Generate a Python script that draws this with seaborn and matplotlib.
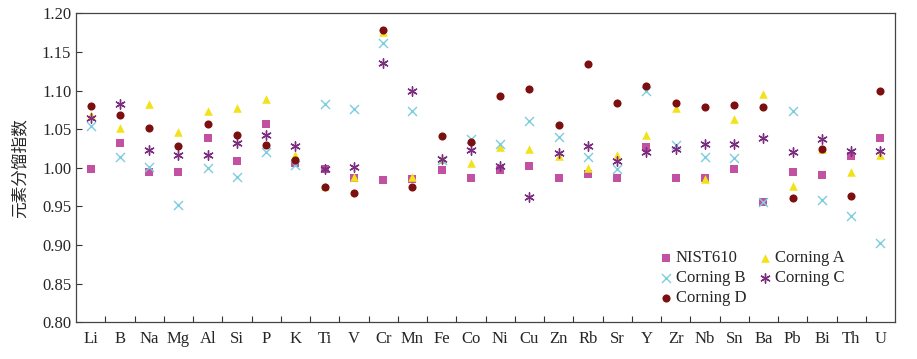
import numpy as np
import pandas as pd
import seaborn as sns
import matplotlib.pyplot as plt
from matplotlib.ticker import FormatStrFormatter

sns.set_theme(style="ticks")
plt.rcParams['font.family'] = ['Liberation Serif', 'Noto Sans CJK SC']
plt.rcParams['axes.unicode_minus'] = False

elements = ["Li", "B", "Na", "Mg", "Al", "Si", "P", "K", "Ti", "V", "Cr", "Mn", "Fe", "Co",
            "Ni", "Cu", "Zn", "Rb", "Sr", "Y", "Zr", "Nb", "Sn", "Ba", "Pb", "Bi", "Th", "U"]

nist610 = [0.998, 1.032, 0.994, 0.995, 1.038, 1.009, 1.057, 1.006, 0.999, 0.987, 0.984, 0.985, 0.997, 0.987,
           0.997, 1.003, 0.987, 0.992, 0.987, 1.027, 0.987, 0.987, 0.998, 0.956, 0.995, 0.991, 1.015, 1.038]
corning_a = [1.069, 1.051, 1.083, 1.046, 1.073, 1.077, 1.089, 1.017, 0.977, 0.988, 1.176, 0.988, 1.011, 1.006,
             1.027, 1.024, 1.015, 1.000, 1.016, 1.043, 1.078, 0.986, 1.063, 1.095, 0.976, 1.024, 0.995, 1.017]
corning_b = [1.054, 1.014, 1.001, 0.952, 1.000, 0.988, 1.020, 1.004, 1.083, 1.076, 1.161, 1.073, 1.010, 1.037,
             1.031, 1.061, 1.040, 1.014, 0.998, 1.100, 1.030, 1.014, 1.013, 0.956, 1.073, 0.958, 0.938, 0.903]
corning_c = [1.065, 1.083, 1.023, 1.017, 1.017, 1.032, 1.043, 1.028, 0.998, 1.001, 1.136, 1.100, 1.011, 1.023,
             1.003, 0.962, 1.019, 1.028, 1.009, 1.021, 1.025, 1.031, 1.031, 1.038, 1.020, 1.037, 1.022, 1.022]
corning_d = [1.080, 1.069, 1.052, 1.028, 1.057, 1.043, 1.030, 1.010, 0.975, 0.968, 1.179, 0.975, 1.041, 1.034,
             1.093, 1.102, 1.055, 1.134, 1.084, 1.106, 1.084, 1.079, 1.081, 1.079, 0.961, 1.024, 0.963, 1.099]

series = [
    ("NIST610", nist610, "s", "#c251a2", 32),
    ("Corning A", corning_a, "^", "#f2e21a", 38),
    ("Corning B", corning_b, "x", "#7ccde0", 42),
    ("Corning C", corning_c, (6, 2, 0), "#7b2d80", 46),
    ("Corning D", corning_d, "o", "#7c1010", 34),
]

fig, ax = plt.subplots(figsize=(9.17, 3.59), dpi=100)
fig.subplots_adjust(left=0.083, right=0.976, top=0.963, bottom=0.102)

for name, vals, mk, col, sz in series:
    if mk in ("s", "^", "o"):
        sns.scatterplot(x=elements, y=vals, marker=mk, color=col, s=sz, linewidth=0,
                        ax=ax, label=name, zorder=3)
    else:
        sns.scatterplot(x=elements, y=vals, marker=mk, color=col, s=sz, linewidth=1.0,
                        ax=ax, label=name, zorder=3)

h, l = ax.get_legend_handles_labels()
order = [0, 2, 4, 1, 3]
ax.legend([h[i] for i in order], [l[i] for i in order], ncol=2, frameon=False,
          loc="lower left", bbox_to_anchor=(0.706, 0.03), fontsize=12,
          handlelength=0.6, handletextpad=0.3, labelspacing=0.25, columnspacing=0.8,
          borderaxespad=0)

ax.set_xlim(-0.5, len(elements) - 0.5)
ax.set_ylim(0.80, 1.20)
ax.set_yticks(np.arange(0.80, 1.2001, 0.05))
ax.yaxis.set_major_formatter(FormatStrFormatter("%.2f"))
ax.set_xticks(range(len(elements)))
ax.set_xticklabels(elements)
ax.set_xticks(np.arange(0.5, len(elements) - 0.5, 1), minor=True)
ax.tick_params(axis="x", which="major", length=0, labelsize=12, pad=6)
ax.tick_params(axis="x", which="minor", direction="in", length=4, width=0.8, color="#333333")
ax.tick_params(axis="y", direction="in", length=4, width=0.8, labelsize=12, color="#333333")
ax.set_xlabel("")
ax.set_ylabel("元素分馏指数", fontsize=12, family=["Noto Sans CJK SC"], labelpad=10)
for sp in ax.spines.values():
    sp.set_visible(True)
    sp.set_color("#444444")
    sp.set_linewidth(0.9)

fig.savefig("out.png", dpi=100)
